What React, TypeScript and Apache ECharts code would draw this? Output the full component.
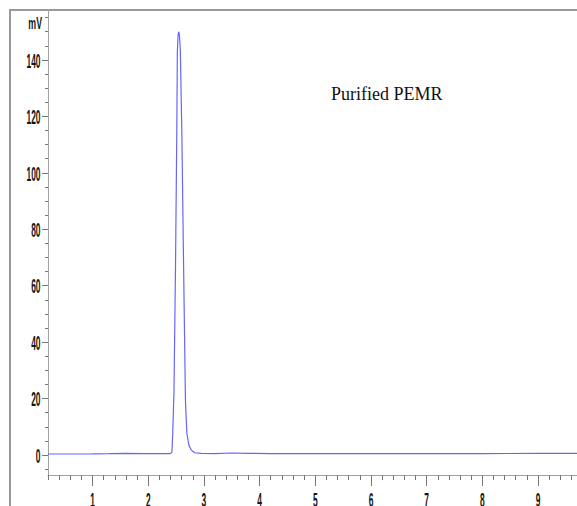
import React, { useEffect, useRef } from "react";
import * as echarts from "echarts";

// Retention time (min) and signal (mV)
const timeMin = [
  0.2, 0.6, 1.0, 1.3, 1.6, 1.9, 2.2, 2.4, 2.425, 2.44, 2.462, 2.49, 2.513, 2.523,
  2.537, 2.549, 2.562, 2.577, 2.603, 2.635, 2.668, 2.693, 2.73, 2.772, 2.83,
  2.95, 3.2, 3.5, 3.8, 4.2, 5.0, 6.0, 7.0, 8.0, 9.0, 9.7,
];
const signalMv = [
  0.35, 0.35, 0.4, 0.45, 0.6, 0.45, 0.45, 0.5, 1.0, 7.8, 22, 67, 115, 143,
  149, 150, 148.5, 143, 115, 67, 19.5, 7.8, 3.5, 1.8, 0.8, 0.55, 0.5, 0.7, 0.6,
  0.5, 0.45, 0.45, 0.5, 0.5, 0.55, 0.55,
];

const xTickValues = [1, 2, 3, 4, 5, 6, 7, 8, 9];
const xTickLabels = ["1", "2", "3", "4", "5", "6", "7", "8", "9"];
const yTickValues = [0, 20, 40, 60, 80, 100, 120, 140];
const yTickLabels = ["0", "20", "40", "60", "80", "100", "120", "140"];
const yUnitLabel = "mV";
const annotation = "Purified PEMR";

const X_MIN = 0.2;
const X_MAX = 9.7;
const Y_MIN = -7.09;
const Y_MAX = 157.7;

const xMinorTicks: number[] = [X_MIN];
for (let k = 1; k < 48; k++) {
  const v = Math.round((X_MIN + k * 0.2) * 10) / 10;
  if (v <= X_MAX && Math.abs(v - Math.round(v)) > 1e-6) xMinorTicks.push(v);
}
const yMinorTicks: number[] = [];
for (let v = -5; v <= 155; v += 5) {
  if (v % 20 !== 0) yMinorTicks.push(v);
}

export default function App() {
  const ref = useRef<HTMLDivElement>(null);

  useEffect(() => {
    if (!ref.current) return;
    const chart = echarts.init(ref.current, null, { renderer: "svg" });
    const axisGray = "#a0a0a0";
    const tickGray = "#777777";

    const option: any = {
      animation: false,
      backgroundColor: "#ffffff",
      grid: { left: 48, top: 10, right: 0, bottom: 31, containLabel: false },
      xAxis: [
        {
          type: "value",
          min: X_MIN,
          max: X_MAX,
          position: "bottom",
          axisLine: { show: true, onZero: false, lineStyle: { color: axisGray, width: 1 } },
          axisTick: { show: true, customValues: xTickValues, length: 11, lineStyle: { color: tickGray } },
          axisLabel: { show: false },
          splitLine: { show: false },
        },
        {
          type: "value",
          min: X_MIN,
          max: X_MAX,
          position: "bottom",
          axisLine: { show: false, onZero: false },
          axisTick: { show: true, customValues: xMinorTicks, length: 5, lineStyle: { color: tickGray } },
          axisLabel: { show: false },
          splitLine: { show: false },
        },
      ],
      yAxis: [
        {
          type: "value",
          min: Y_MIN,
          max: Y_MAX,
          position: "left",
          axisLine: { show: true, onZero: false, lineStyle: { color: axisGray, width: 1 } },
          axisTick: { show: true, customValues: yTickValues, length: 6, lineStyle: { color: tickGray } },
          axisLabel: { show: false },
          splitLine: { show: false },
        },
        {
          type: "value",
          min: Y_MIN,
          max: Y_MAX,
          position: "left",
          axisLine: { show: false, onZero: false },
          axisTick: { show: true, customValues: yMinorTicks, length: 3, lineStyle: { color: tickGray } },
          axisLabel: { show: false },
          splitLine: { show: false },
        },
      ],
      series: [
        {
          type: "line",
          xAxisIndex: 0,
          yAxisIndex: 0,
          data: timeMin.map((t, i) => [t, signalMv[i]]),
          showSymbol: false,
          symbol: "none",
          smooth: false,
          lineStyle: { color: "#6565ff", width: 1.2 },
          silent: true,
        },
      ],
    };
    chart.setOption(option);

    const labelStyle = {
      fill: "#151515",
      fontFamily: "Liberation Sans, Arial, sans-serif",
      fontWeight: "bold",
      fontSize: 21,
    };
    const graphics: any[] = [];
    // outer frame
    graphics.push({
      type: "rect",
      shape: { x: 10, y: 10, width: 700, height: 700 },
      style: { fill: "none", stroke: "#9a9a9a", lineWidth: 2 },
      silent: true,
      z: 0,
    });
    yTickValues.forEach((v, i) => {
      const py = chart.convertToPixel({ yAxisIndex: 0 }, v) as number;
      graphics.push({
        type: "text",
        x: 40.5,
        y: py + 0.5,
        scaleX: 0.4,
        style: { ...labelStyle, text: yTickLabels[i], textAlign: "right", textVerticalAlign: "middle" },
        silent: true,
      });
    });
    xTickValues.forEach((v, i) => {
      const px = chart.convertToPixel({ xAxisIndex: 0 }, v) as number;
      graphics.push({
        type: "text",
        x: px,
        y: 489,
        scaleX: 0.4,
        style: { ...labelStyle, text: xTickLabels[i], textAlign: "center", textVerticalAlign: "top" },
        silent: true,
      });
    });
    graphics.push({
      type: "text",
      x: 42,
      y: 23,
      scaleX: 0.55,
      style: { ...labelStyle, fontSize: 16, text: yUnitLabel, textAlign: "right", textVerticalAlign: "middle" },
      silent: true,
    });
    graphics.push({
      type: "text",
      x: 331,
      y: 94,
      style: {
        text: annotation,
        fill: "#111111",
        fontFamily: "Liberation Serif, Times New Roman, serif",
        fontSize: 18,
        textAlign: "left",
        textVerticalAlign: "middle",
      },
      silent: true,
    });
    chart.setOption({ graphic: graphics });

    return () => chart.dispose();
  }, []);

  return (
    <div
      ref={ref}
      style={{ position: "fixed", left: 0, top: 0, width: 577, height: 506, background: "#fff" }}
    />
  );
}
